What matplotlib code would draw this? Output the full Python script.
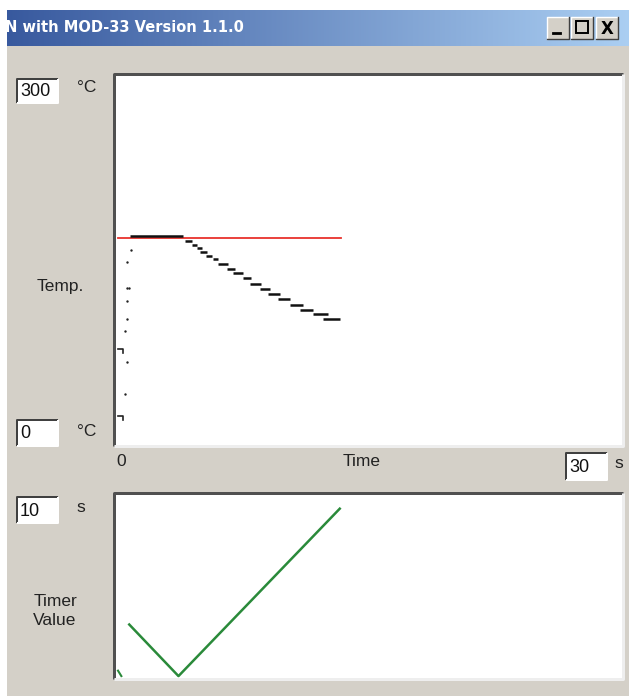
import numpy as np
import matplotlib.pyplot as plt
from matplotlib.patches import Rectangle

# --- data ---
T_MAX_S = 30          # time axis range (s)
TEMP_MAX = 300        # temperature axis range (C)
TIMER_MAX = 10        # timer axis range (s)

setpoint_t = [0.0, 13.3]
setpoint_T = [168, 168]

# heating samples (sparse dots near t=0)
heat_t = [0.42, 0.52, 0.42, 0.52, 0.52, 0.52, 0.65, 0.52, 0.76]
heat_T = [40, 66, 92, 102, 116, 127, 127, 148, 158]

# measured temperature as quantised steps: start, end, value
step_t0 = [0.71, 3.99, 4.40, 4.70, 4.88, 5.24, 5.65, 5.95, 6.49, 6.85, 7.44, 7.86,
           8.45, 8.93, 9.52, 10.24, 10.83, 11.61, 12.20]
step_t1 = [3.87, 4.40, 4.70, 5.00, 5.30, 5.60, 5.95, 6.55, 6.96, 7.44, 7.92, 8.51,
           9.05, 9.64, 10.24, 11.01, 11.61, 12.50, 13.21]
step_T = [169.7, 165.8, 162.3, 159.8, 156.6, 153.3, 150.8, 146.7, 142.6, 139.3, 135.2,
          130.3, 126.2, 122.1, 118.0, 113.1, 109.0, 105.7, 101.6]

# first two readings drawn as small brackets at the left edge
tick_T = [22, 77]

# timer value
timer_t = [0.67, 3.6, 13.2]
timer_v = [2.9, 0.05, 9.3]

W, H = 629, 696
GRAY = "#d4d0c8"

fig = plt.figure(figsize=(W / 100, H / 100), dpi=100)
fig.patch.set_facecolor(GRAY)

# background axes in pixel coordinates for the window chrome
bg = fig.add_axes([0, 0, 1, 1])
bg.set_xlim(0, W)
bg.set_ylim(H, 0)
bg.axis("off")

def px(v):
    return v * 0.72  # pixels -> points

def rect(x0, y0, x1, y1, **kw):
    bg.add_patch(Rectangle((x0, y0), x1 - x0, y1 - y0, **kw))

def sunken(x0, y0, x1, y1, dark="#5a5a5a", light="#f4f4f4", w=2):
    rect(x0, y0, x1, y1, facecolor="white", edgecolor="none")
    bg.plot([x0, x0, x1], [y1, y0, y0], color=dark, lw=px(w), solid_capstyle="butt")
    bg.plot([x0, x1, x1], [y1, y1, y0], color=light, lw=px(w), solid_capstyle="butt")

# white strips at the top and left edge of the screenshot
rect(0, 0, W, 10, facecolor="white", edgecolor="none")
rect(0, 0, 7, H, facecolor="white", edgecolor="none")

# title bar gradient
grad = np.linspace(0, 1, 256).reshape(1, -1)
left = np.array([0.22, 0.35, 0.62])
right = np.array([0.67, 0.81, 0.95])
img = left + grad[..., None] * (right - left)
bg.imshow(img, extent=(7, W, 46, 10), aspect="auto", zorder=1)
bg.text(5, 28, "N with MOD-33 Version 1.1.0", color="white", fontsize=10.5,
        fontweight="bold", family="DejaVu Sans", va="center", ha="left", zorder=3)

# window buttons
for bx, glyph in [(547, "_"), (571, "□"), (596, "X")]:
    rect(bx, 17, bx + 22, 39, facecolor=GRAY, edgecolor="none", zorder=2)
    bg.plot([bx, bx, bx + 22], [39, 17, 17], color="white", lw=1, zorder=3)
    bg.plot([bx, bx + 22, bx + 22], [39, 39, 17], color="#404040", lw=1, zorder=3)
    if glyph == "_":
        bg.plot([bx + 6, bx + 13], [33, 33], color="black", lw=2, zorder=4)
    elif glyph == "□":
        bg.add_patch(Rectangle((bx + 5, 21), 12, 12, facecolor="none",
                               edgecolor="black", lw=1.4, zorder=4))
    else:
        bg.text(bx + 11, 28.5, "X", fontsize=12, fontweight="bold", ha="center",
                va="center", family="DejaVu Sans", zorder=4)

# plot panels
sunken(114, 74, 623, 446, dark="#505050", light="#eeeeee", w=3)
sunken(114, 493, 623, 679, dark="#505050", light="#eeeeee", w=3)

# entry boxes and labels
lab = dict(fontsize=12.5, family="Liberation Sans", color="#222222", va="center")
box = dict(fontsize=13, family="Liberation Sans", color="#111111", va="center")
for (x0, y0, x1, y1), s in [((17, 79, 58, 103), "300"), ((17, 420, 58, 446), "0"),
                            ((566, 453, 607, 480), "30"), ((17, 497, 58, 523), "10")]:
    sunken(x0, y0, x1, y1, dark="#404040", light="#ffffff", w=2)
    bg.text(x0 + 3, (y0 + y1) / 2 + 1, s, ha="left", **box)

bg.text(77, 88, "°C", ha="left", **lab)
bg.text(77, 431, "°C", ha="left", **lab)
bg.text(60, 286, "Temp.", ha="center", **lab)
bg.text(116, 462, "0", ha="left", **lab)
bg.text(362, 462, "Time", ha="center", **lab)
bg.text(614, 464, "s", ha="left", **lab)
bg.text(76, 507, "s", ha="left", **lab)
bg.text(55, 611, "Timer\nValue", ha="center", linespacing=1.4, **lab)

def data_axes(x0, y0, x1, y1):
    ax = fig.add_axes([x0 / W, 1 - y1 / H, (x1 - x0) / W, (y1 - y0) / H])
    ax.patch.set_alpha(0)
    ax.axis("off")
    return ax

# temperature chart
ax1 = data_axes(118, 77, 622, 443)
ax1.set_xlim(0, T_MAX_S)
ax1.set_ylim(0, TEMP_MAX)
ax1.plot(setpoint_t, setpoint_T, color="#e8322c", lw=1.3, clip_on=False)
ax1.hlines(step_T, step_t0, step_t1, color="#111111", lw=1.8, clip_on=False)
ax1.scatter(heat_t, heat_T, s=3, color="#222222", lw=0, clip_on=False)
for v in tick_T:
    ax1.plot([0, 0.3, 0.3], [v, v, v - 3], color="#222222", lw=1.2, clip_on=False)

# timer chart
ax2 = data_axes(118, 496, 622, 677)
ax2.set_xlim(0, T_MAX_S)
ax2.set_ylim(0, TIMER_MAX)
ax2.plot(timer_t, timer_v, color="#2a8a3a", lw=1.8, clip_on=False)
ax2.plot([0.0, 0.2], [0.35, 0.05], color="#2a8a3a", lw=1.5, clip_on=False)

fig.savefig("out.png", dpi=100, facecolor=fig.get_facecolor())
